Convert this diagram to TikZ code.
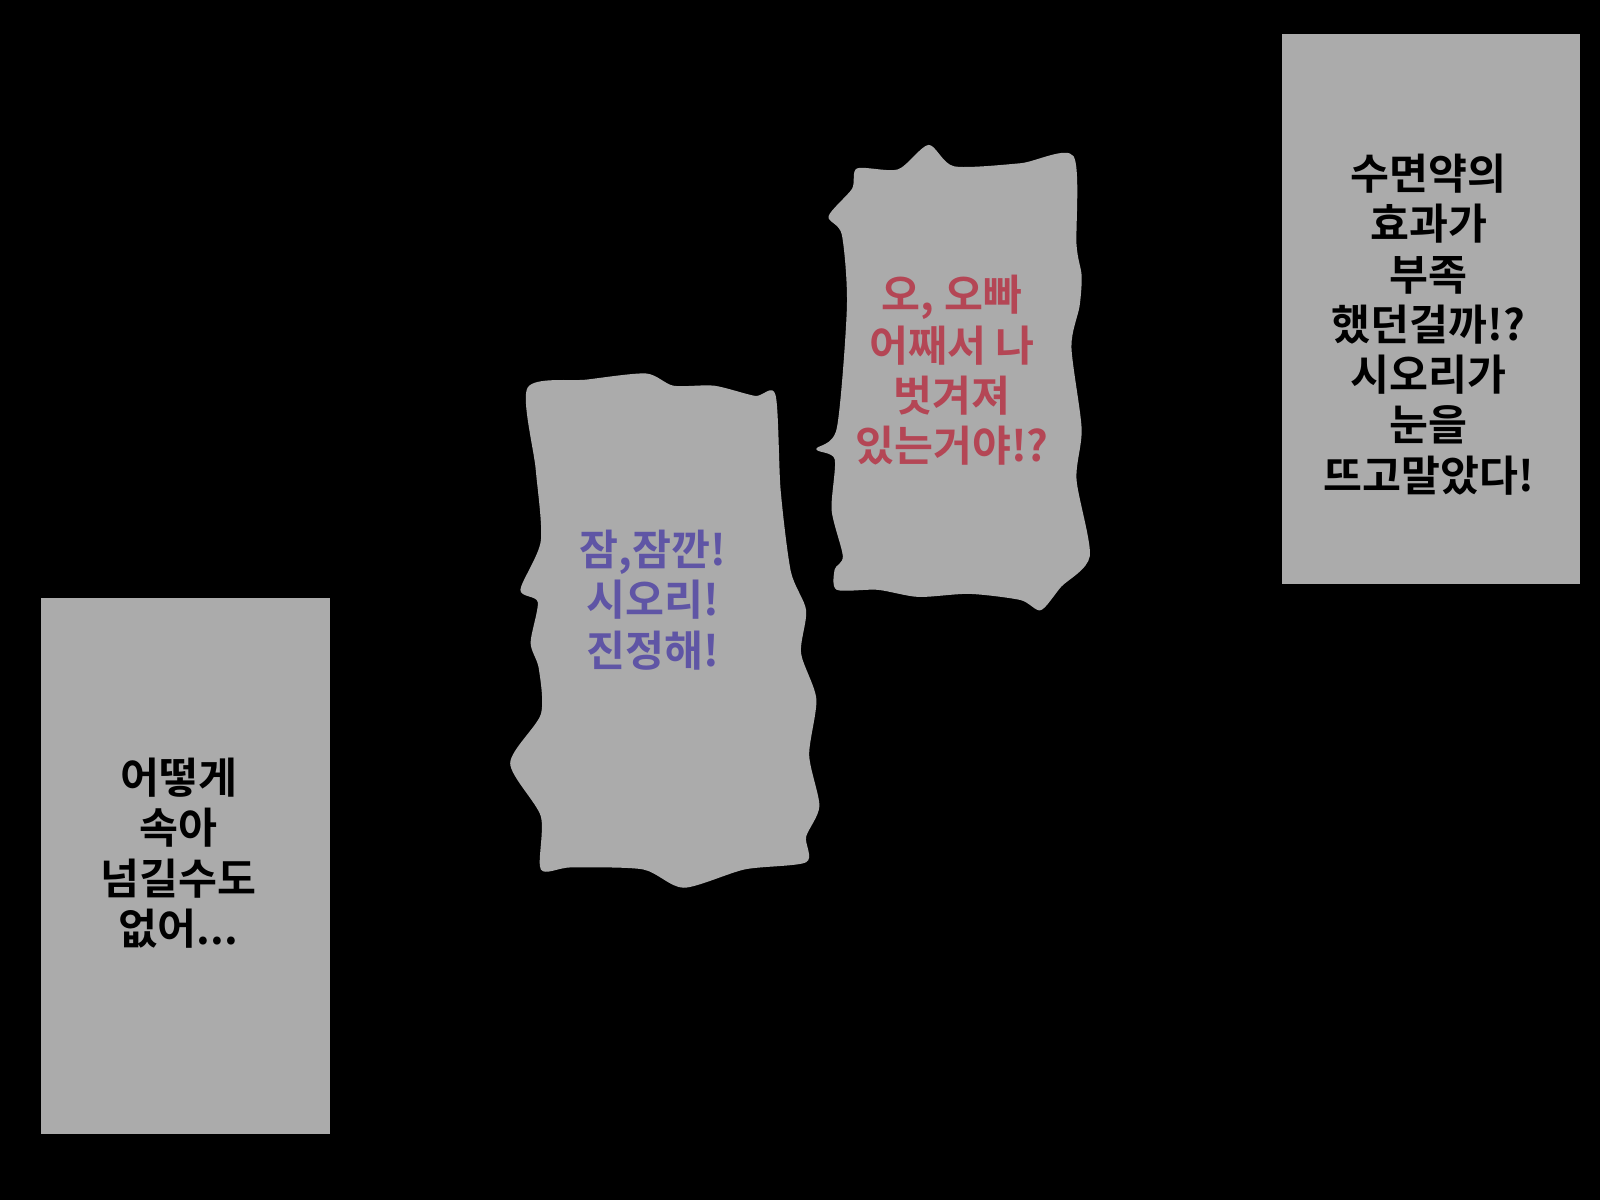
\documentclass[tikz,border=0pt]{standalone}
\usepackage{fontspec}
\newfontfamily\krfont{Noto Sans CJK KR}[BoldFont={* Bold}]
\begin{document}
\begin{tikzpicture}[x=0.01cm,y=-0.01cm,
  panel/.style={fill=black!33},
  bubble/.style={fill=black!33},
  says/.style={font=\krfont\bfseries\fontsize{11.8pt}{14pt}\selectfont,align=center,inner sep=0pt}]
  \fill[black] (0,0) rectangle (1568,1176);
  % narration boxes
  \fill[panel] (1256,33) rectangle (1548,572);
  \fill[panel] (40,586) rectangle (323,1111);
  % speech bubbles
  \fill[bubble] plot[smooth cycle,tension=0.45] coordinates {
    (517,380) (575,372) (633,366) (660,378) (700,378) (740,388) (760,387)
    (765,480) (775,560) (790,598) (785,640) (800,685) (793,740) (803,790)
    (790,820) (790,845) (730,852) (670,870) (630,852) (560,850) (530,852)
    (530,800) (500,748) (530,700) (528,655) (520,630) (527,590) (510,578) (530,530) (525,460)};
  \fill[bubble] plot[smooth cycle,tension=0.45] coordinates {
    (812,212) (835,185) (840,165) (880,166) (910,142) (935,163) (1000,160) (1052,153)
    (1055,240) (1060,270) (1058,300) (1050,340) (1060,420) (1055,470) (1068,545)
    (1040,575) (1020,598) (1000,588) (950,582) (900,585) (860,578) (820,578)
    (818,558) (826,545) (815,500) (818,450) (800,440) (820,420) (830,300) (825,230)};
  \node[says] (eyes) at (1400,318) {수면약의\\효과가\\부족\\했던걸까!?\\시오리가\\눈을\\뜨고말았다!};
  \node[says] (fool) at (175,836) {어떻게\\속아\\넘길수도\\없어...};
  \node[says,text={rgb,255:red,95;green,85;blue,165}] (calm) at (640,588) {잠,잠깐!\\시오리!\\진정해!};
  \node[says,text={rgb,255:red,180;green,70;blue,85}] (why) at (933,363) {오, 오빠\\어째서 나\\벗겨져\\있는거야!?};
\end{tikzpicture}
\end{document}
